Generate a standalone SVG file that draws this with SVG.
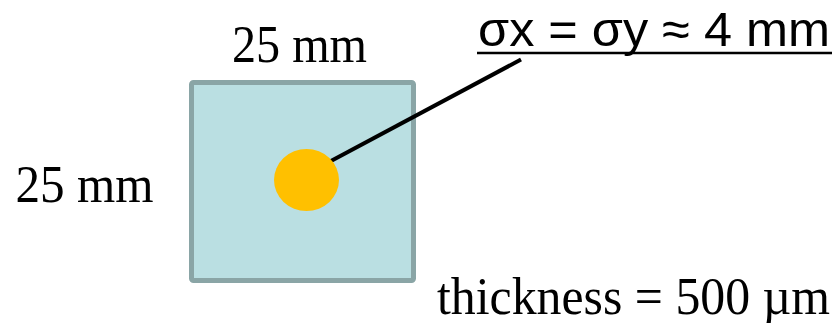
<svg xmlns="http://www.w3.org/2000/svg" width="839" height="323" viewBox="0 0 839 323">
<style>
.serif{font-family:"Liberation Serif","Times New Roman",serif;font-size:53px;fill:#000}
.sans{font-family:"Liberation Sans",Arial,sans-serif;font-size:49px;fill:#000}
</style>
<rect width="839" height="323" fill="#ffffff"/>
<g id="plate">
<rect x="191.5" y="82.5" width="222" height="198" rx="2" fill="#BADFE2" stroke="#8AA5A6" stroke-width="5"/>
</g>
<g id="connectors">
<line x1="330" y1="161.5" x2="521" y2="59.5" stroke="#000" stroke-width="4"/>
</g>
<g id="beam">
<ellipse cx="306.5" cy="180" rx="32.5" ry="31" fill="#FFC000"/>
</g>
<g id="label-width">
<text class="serif" x="232" y="62" textLength="135" lengthAdjust="spacingAndGlyphs">25 mm</text>
</g>
<g id="label-height">
<text class="serif" x="15.5" y="202" textLength="138" lengthAdjust="spacingAndGlyphs">25 mm</text>
</g>
<g id="label-sigma">
<text class="sans" x="478" y="45.5" textLength="352" lengthAdjust="spacingAndGlyphs">σx = σy ≈ 4 mm</text>
<line x1="477" y1="53" x2="832" y2="53" stroke="#000" stroke-width="2.4"/>
</g>
<g id="label-thickness">
<text class="serif" x="437" y="314" textLength="393" lengthAdjust="spacingAndGlyphs">thickness = 500 µm</text>
</g>
</svg>
